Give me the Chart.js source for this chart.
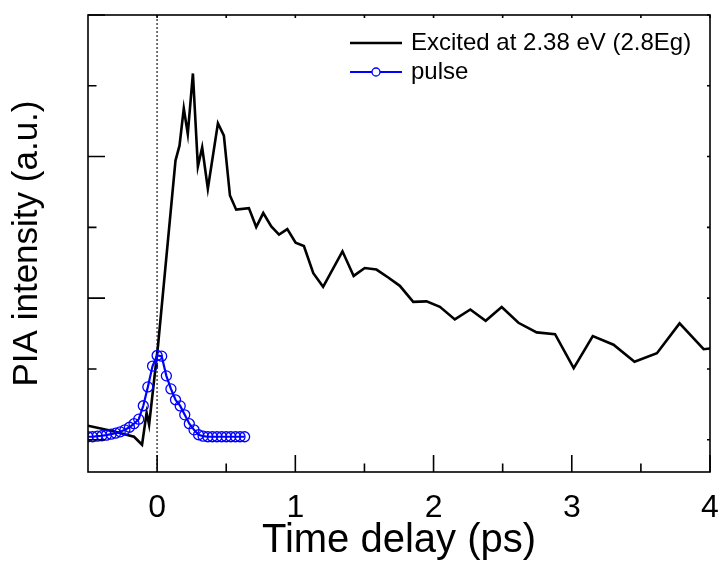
<!DOCTYPE html>
<html>
<head>
<meta charset="utf-8">
<script src="https://cdn.jsdelivr.net/npm/chart.js@4/dist/chart.umd.min.js"></script>
<style>
  html, body { margin: 0; padding: 0; background: #fff; }
  #wrap { width: 721px; height: 563px; position: relative; }
</style>
</head>
<body>
<div id="wrap"><canvas id="c" width="721" height="563"></canvas></div>
<script>
// ---- data ----
const excitedLabel = "Excited at 2.38 eV (2.8Eg)";
const pulseLabel = "pulse";
const excitedX = [-0.5,-0.333,-0.167,-0.109,-0.076,-0.058,0.007,0.133,0.162,0.193,0.222,0.259,0.295,0.326,0.367,0.440,0.483,0.527,0.572,0.664,0.717,0.768,0.826,0.882,0.942,1.002,1.062,1.130,1.201,1.341,1.422,1.502,1.587,1.672,1.756,1.853,1.949,2.046,2.154,2.266,2.377,2.493,2.614,2.746,2.879,3.014,3.152,3.302,3.454,3.616,3.780,3.954,4.014];
const excitedY = [0.099,0.063,0.021,-0.035,0.190,0.106,0.669,1.972,2.077,2.340,2.160,2.587,1.930,2.065,1.773,2.235,2.148,1.725,1.625,1.636,1.502,1.601,1.507,1.449,1.488,1.392,1.368,1.176,1.080,1.331,1.157,1.213,1.202,1.146,1.087,0.974,0.977,0.939,0.850,0.920,0.840,0.937,0.826,0.758,0.746,0.505,0.732,0.671,0.551,0.611,0.822,0.639,0.646];
const pulseX = [-0.5,-0.467,-0.433,-0.4,-0.367,-0.333,-0.3,-0.267,-0.233,-0.2,-0.167,-0.133,-0.1,-0.067,-0.033,0,0.033,0.067,0.1,0.133,0.167,0.2,0.233,0.267,0.3,0.333,0.367,0.4,0.433,0.467,0.5,0.533,0.567,0.6,0.633];
const pulseY = [0.021,0.021,0.025,0.028,0.032,0.039,0.046,0.056,0.070,0.088,0.113,0.145,0.240,0.373,0.520,0.595,0.590,0.451,0.359,0.282,0.239,0.176,0.113,0.070,0.035,0.025,0.021,0.021,0.021,0.021,0.021,0.021,0.021,0.021,0.021];
const xTickLabels = [0, 1, 2, 3, 4];
const xMinorTicks = [0.5, 1.5, 2.5, 3.5];
const yMajorTicks = [0, 1, 2, 3];
const yMinorTicks = [0.5, 1.5, 2.5];
const zeroDelay = 0;
const xTitle = "Time delay (ps)";
const yTitle = "PIA intensity (a.u.)";

const FONT = "'Liberation Sans', Arial, Helvetica, sans-serif";

const toPts = (xs, ys) => xs.map((x, i) => ({x: x, y: ys[i]}));

const framePlugin = {
  id: 'frameTicks',
  beforeDatasetsDraw(chart) {
    const {ctx, chartArea: a, scales: {x}} = chart;
    const px = x.getPixelForValue(zeroDelay);
    ctx.save();
    ctx.strokeStyle = '#666';
    ctx.lineWidth = 1.8;
    ctx.setLineDash([2, 2]);
    ctx.beginPath();
    ctx.moveTo(px, a.top);
    ctx.lineTo(px, a.bottom);
    ctx.stroke();
    ctx.restore();
  },
  afterDatasetsDraw(chart) {
    const {ctx, chartArea: a, scales: {x, y}} = chart;
    ctx.save();
    ctx.strokeStyle = '#000';
    ctx.lineWidth = 1.6;
    ctx.strokeRect(a.left, a.top, a.right - a.left, a.bottom - a.top);
    ctx.beginPath();
    const tickX = (v, len) => {
      const p = x.getPixelForValue(v);
      ctx.moveTo(p, a.bottom); ctx.lineTo(p, a.bottom - len);
      ctx.moveTo(p, a.top); ctx.lineTo(p, a.top + 3);
    };
    const tickY = (v, len) => {
      const p = y.getPixelForValue(v);
      ctx.moveTo(a.left, p); ctx.lineTo(a.left + len, p);
      ctx.moveTo(a.right, p); ctx.lineTo(a.right - 3, p);
    };
    xTickLabels.forEach(v => tickX(v, 17));
    xMinorTicks.forEach(v => tickX(v, 8.5));
    yMajorTicks.forEach(v => tickY(v, 17));
    yMinorTicks.forEach(v => tickY(v, 8.5));
    ctx.stroke();
    ctx.restore();
  },
  afterDraw(chart) {
    const ctx = chart.ctx;
    ctx.save();
    // legend
    ctx.lineWidth = 2.5;
    ctx.strokeStyle = '#000';
    ctx.beginPath(); ctx.moveTo(350, 43); ctx.lineTo(402, 43); ctx.stroke();
    ctx.lineWidth = 2;
    ctx.strokeStyle = '#0000ff';
    ctx.beginPath(); ctx.moveTo(350, 72); ctx.lineTo(402, 72); ctx.stroke();
    ctx.lineWidth = 1.3;
    ctx.beginPath(); ctx.arc(376, 72, 4, 0, Math.PI * 2); ctx.fillStyle = '#fff'; ctx.fill(); ctx.stroke();
    ctx.fillStyle = '#000';
    ctx.font = "24px " + FONT;
    ctx.textBaseline = 'middle';
    ctx.textAlign = 'left';
    ctx.fillText(excitedLabel, 411, 43);
    ctx.fillText(pulseLabel, 411, 72);
    ctx.restore();
  }
};

new Chart(document.getElementById('c'), {
  type: 'line',
  data: {
    datasets: [
      {
        label: pulseLabel,
        data: toPts(pulseX, pulseY),
        borderColor: '#0000ff',
        borderWidth: 2.2,
        pointRadius: 5,
        pointBorderWidth: 1.3,
        pointBorderColor: '#0000ff',
        pointBackgroundColor: 'rgba(0,0,0,0)',
        tension: 0,
        order: 1
      },
      {
        label: excitedLabel,
        data: toPts(excitedX, excitedY),
        borderColor: '#000',
        borderWidth: 2.6,
        pointRadius: 0,
        tension: 0,
        order: 2
      }
    ]
  },
  options: {
    responsive: false,
    animation: false,
    layout: { padding: { top: 15, right: 11, left: 0, bottom: 0 } },
    plugins: { legend: { display: false }, tooltip: { enabled: false } },
    scales: {
      x: {
        type: 'linear',
        min: -0.5, max: 4,
        grid: { display: false, drawTicks: false },
        border: { display: false },
        afterBuildTicks: s => { s.ticks = xTickLabels.map(v => ({value: v})); },
        afterFit: s => { s.height = 91; s.paddingLeft = 0; s.paddingRight = 0; },
        ticks: { color: '#000', padding: 17, font: { family: FONT, size: 32 }, maxRotation: 0, autoSkip: false,
                 callback: v => String(v) },
        title: { display: true, text: xTitle, color: '#000', font: { family: FONT, size: 40, lineHeight: 1.1 }, padding: 0 }
      },
      y: {
        type: 'linear',
        min: -0.228, max: 3,
        grid: { display: false, drawTicks: false },
        border: { display: false },
        ticks: { display: false },
        afterFit: s => { s.width = 88; s.paddingTop = 0; s.paddingBottom = 0; },
        title: { display: true, text: yTitle, color: '#000', font: { family: FONT, size: 35, lineHeight: 1.2 }, padding: { top: 6, bottom: 0 } }
      }
    }
  },
  plugins: [framePlugin]
});
</script>
</body>
</html>
